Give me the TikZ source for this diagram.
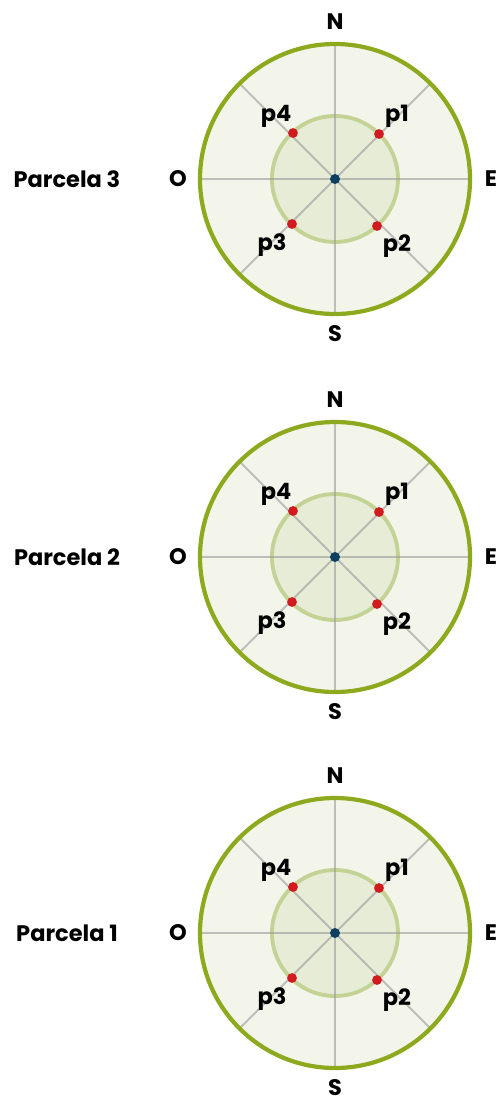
\documentclass[tikz,border=0pt]{standalone}
\usepackage{fontspec}
\setmainfont{Poppins}
\usetikzlibrary{calc}
\definecolor{verde}{HTML}{8DAA1F}
\definecolor{verdeclaro}{HTML}{C3D396}
\definecolor{fondo}{HTML}{F3F5EB}
\definecolor{fondoint}{HTML}{E6ECD6}
\definecolor{rojo}{HTML}{D11B20}
\definecolor{azul}{HTML}{0D3F63}

\begin{document}
\begin{tikzpicture}[x= 0.02cm, y= -0.02cm,
	texto/.style= {font= \bfseries\fontsize{12.8pt}{14pt}\selectfont, inner sep= 0pt},
	rejilla/.style= {draw= gray!80, line width= 1.1pt, opacity= 0.6},
	punto/.style= {circle, fill= rojo, inner sep= 0pt, minimum size= 5.6pt}]
\useasboundingbox (0, 0) rectangle (499, 1103);
\foreach \n/\yc in {3/179, 2/557, 1/933}{
% centro de la parcela
	\coordinate (c\n) at (335, \yc);
% círculos
	\fill[fondo] (c\n) circle (135);
	\fill[fondoint] (c\n) circle (63);
	\draw[verdeclaro, line width= 2.2pt] (c\n) circle (63);
% líneas de orientación
	\foreach \a in {0, 45, ..., 315}
		\draw[rejilla] (c\n)-- ++(\a: 134); %
	\draw[verde, line width= 2.4pt] (c\n) circle (135);
% puntos p1 a p4
	\node[punto] (q1-\n) at ($(c\n)+(44, -45)$) {};
	\node[punto] (q2-\n) at ($(c\n)+(42, 47)$) {};
	\node[punto] (q3-\n) at ($(c\n)+(-43, 45)$) {};
	\node[punto] (q4-\n) at ($(c\n)+(-42, -46)$) {};
	\fill[azul] (c\n) circle (5);
	\node[texto] (p1-\n) at ($(c\n)+(62, -63)$) {p1};
	\node[texto] (p2-\n) at ($(c\n)+(62, 67)$) {p2};
	\node[texto] (p3-\n) at ($(c\n)+(-63, 66)$) {p3};
	\node[texto] (p4-\n) at ($(c\n)+(-59, -63)$) {p4};
% puntos cardinales
	\node[texto] (N\n) at ($(c\n)+(0, -157)$) {N};
	\node[texto] (S\n) at ($(c\n)+(0, 155)$) {S};
	\node[texto] (E\n) at ($(c\n)+(156, 0)$) {E};
	\node[texto] (O\n) at ($(c\n)+(-157, 0)$) {O};
	\node[texto] (parcela\n) at (67, \yc) {Parcela \n};
}
\end{tikzpicture}
\end{document}
